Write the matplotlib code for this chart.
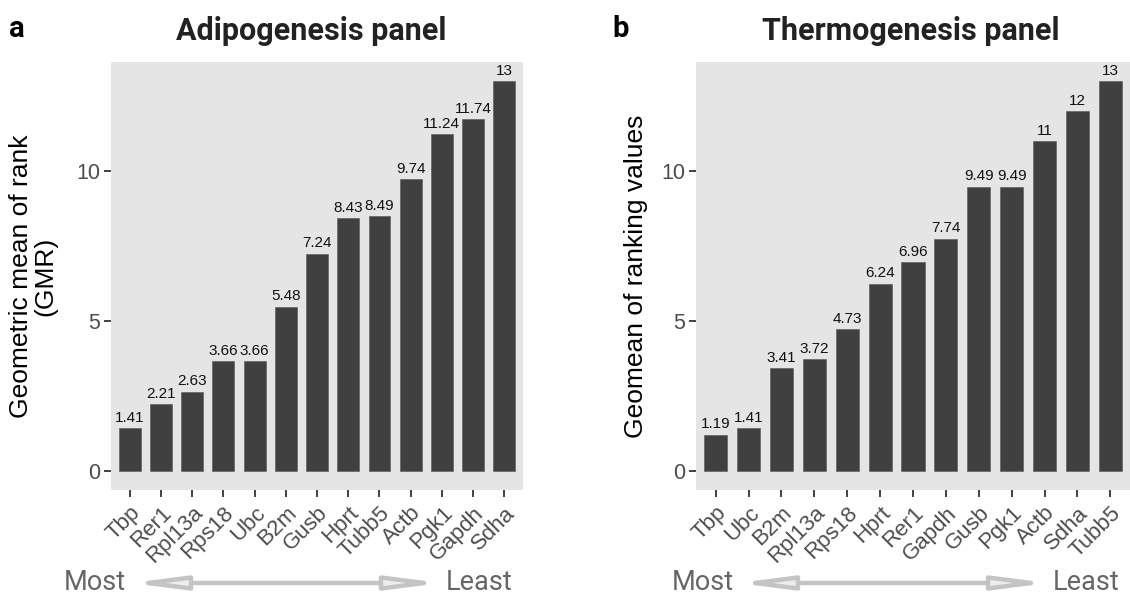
import matplotlib
matplotlib.use("Agg")
import matplotlib.pyplot as plt
from matplotlib.patches import FancyArrowPatch

plt.rcParams['font.family'] = ['Liberation Sans', 'DejaVu Sans']

genes_a = ["Tbp", "Rer1", "Rpl13a", "Rps18", "Ubc", "B2m", "Gusb", "Hprt", "Tubb5",
           "Actb", "Pgk1", "Gapdh", "Sdha"]
vals_a = [1.41, 2.21, 2.63, 3.66, 3.66, 5.48, 7.24, 8.43, 8.49, 9.74, 11.24, 11.74, 13]
labels_a = ["1.41", "2.21", "2.63", "3.66", "3.66", "5.48", "7.24", "8.43", "8.49",
            "9.74", "11.24", "11.74", "13"]

genes_b = ["Tbp", "Ubc", "B2m", "Rpl13a", "Rps18", "Hprt", "Rer1", "Gapdh", "Gusb",
           "Pgk1", "Actb", "Sdha", "Tubb5"]
vals_b = [1.19, 1.41, 3.41, 3.72, 4.73, 6.24, 6.96, 7.74, 9.49, 9.49, 11, 12, 13]
labels_b = ["1.19", "1.41", "3.41", "3.72", "4.73", "6.24", "6.96", "7.74", "9.49",
            "9.49", "11", "12", "13"]

yticks = [0, 5, 10]

W, H = 1130, 595
fig = plt.figure(figsize=(11.3, 5.95), dpi=100)

def px_rect(x0, x1, ytop, ybot):
    return [x0 / W, (H - ybot) / H, (x1 - x0) / W, (ybot - ytop) / H]

BG = "#E5E5E5"
BAR = "#404040"
TICKC = "#4D4D4D"

def panel(rect, genes, vals, labels, title, title_cx, letter, letter_x, ylabel, ylabel_x):
    ax = fig.add_axes(rect)
    ax.set_facecolor(BG)
    x = list(range(len(genes)))
    ax.bar(x, vals, width=0.7, color=BAR, edgecolor="#555555", linewidth=0.4)
    for xi, v, lab in zip(x, vals, labels):
        ax.annotate(lab, (xi, v), xytext=(0, 2.5), textcoords="offset points",
                    ha="center", va="bottom", fontsize=11, color="#111111")
    ax.set_xlim(-0.6, len(genes) - 1 + 0.6)
    ax.set_ylim(-0.65, 13.65)
    ax.set_yticks(yticks)
    ax.set_yticklabels([str(t) for t in yticks], fontsize=15.5, color=TICKC)
    ax.set_xticks(x)
    ax.set_xticklabels(genes, rotation=45, ha="right", rotation_mode="anchor",
                       fontsize=16, color=TICKC)
    ax.tick_params(axis="both", length=5, width=1.3, color="#333333", pad=3)
    ax.tick_params(axis="x", pad=4)
    for s in ax.spines.values():
        s.set_visible(False)
    fig.text(ylabel_x / W, (H - 276) / H, ylabel, fontsize=19, color="black",
             rotation=90, ha="center", va="center", linespacing=1.0,
             multialignment="center")
    fig.text(title_cx / W, 1 - 31 / H, title, fontsize=22, fontweight="bold",
             color="#222222", ha="center", va="center", family="Roboto")
    fig.text(letter_x / W, 1 - 29 / H, letter, fontsize=21, fontweight="bold",
             ha="left", va="center", color="black", family="Roboto")
    return ax

ax1 = panel(px_rect(111, 523, 62, 490), genes_a, vals_a, labels_a,
            "Adipogenesis panel", 311, "a", 9,
            "Geometric mean of rank\n(GMR)", 33)
ax2 = panel(px_rect(696, 1130, 62, 490), genes_b, vals_b, labels_b,
            "Thermogenesis panel", 911, "b", 612,
            "Geomean of ranking values", 636)

def arrow(x_most_r, x0, x1, x_least_l, y):
    yy = 1 - y / H
    fig.text(x_most_r / W, yy, "Most", fontsize=19.5, color="#666666",
             ha="right", va="center", family="Roboto")
    fig.text(x_least_l / W, yy, "Least", fontsize=19.5, color="#666666",
             ha="left", va="center", family="Roboto")
    p = FancyArrowPatch((x0 / W, yy), (x1 / W, yy), transform=fig.transFigure,
                        arrowstyle="<|-|>,head_length=14,head_width=1.8",
                        mutation_scale=2.2, linewidth=3.2,
                        edgecolor="#C4C4C4", facecolor="#EDEDED")
    fig.patches.append(p)

arrow(126, 128, 444, 446, 583)
arrow(734, 735, 1051, 1053, 583)

fig.savefig("out.png", dpi=100, facecolor="white")
